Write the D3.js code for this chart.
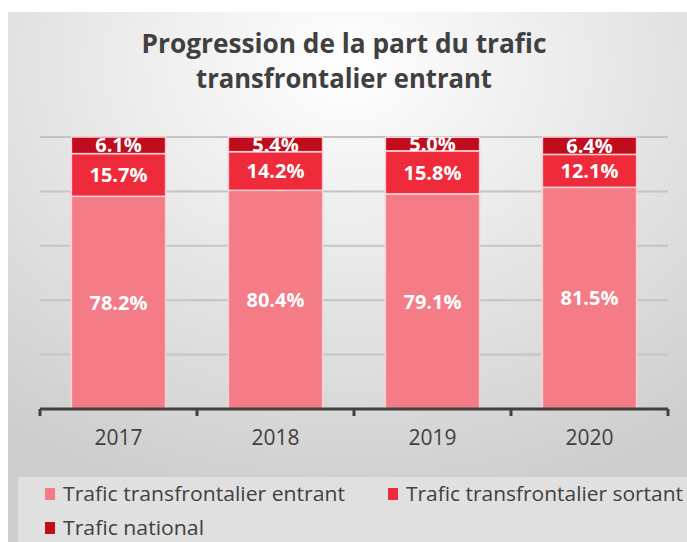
<!DOCTYPE html>
<html>
<head>
<meta charset="utf-8">
<script src="https://cdn.jsdelivr.net/npm/d3@7"></script>
<style>
  body { margin: 0; background: #fff; }
  text { font-family: "Open Sans", "Noto Sans", sans-serif; }
</style>
</head>
<body>
<div id="app"></div>
<script>
const years = ['2017', '2018', '2019', '2020'];
const seriesNames = ['Trafic transfrontalier entrant', 'Trafic transfrontalier sortant', 'Trafic national'];
const entrant = [78.2, 80.4, 79.1, 81.5];
const sortant = [15.7, 14.2, 15.8, 12.1];
const national = [6.1, 5.4, 5.0, 6.4];
const colors = ['#f47c87', '#ee2a3b', '#c00d1e'];
const yTicks = [0, 20, 40, 60, 80, 100];

const width = 687;
const height = 542;

const svg = d3.select('#app').append('svg')
  .attr('width', width)
  .attr('height', height);

// background gradient like the spreadsheet chart
const defs = svg.append('defs');
const grad = defs.append('radialGradient')
  .attr('id', 'bg')
  .attr('cx', '50%').attr('cy', '10%')
  .attr('r', '85%');
grad.append('stop').attr('offset', '0%').attr('stop-color', '#ffffff');
grad.append('stop').attr('offset', '100%').attr('stop-color', '#cdcdcd');

svg.append('rect')
  .attr('x', 8).attr('y', 12)
  .attr('width', width - 8).attr('height', height - 12)
  .attr('fill', 'url(#bg)');

// title
const titleLines = ['Progression de la part du trafic', 'transfrontalier entrant'];
svg.append('g')
  .selectAll('text')
  .data(titleLines)
  .enter()
  .append('text')
  .attr('x', 344).attr('y', (d, i) => 53 + i * 35)
  .attr('text-anchor', 'middle')
  .attr('font-size', 26).attr('font-weight', 'bold')
  .attr('fill', '#404040')
  .attr('textLength', (d, i) => i === 0 ? 405 : 296)
  .attr('lengthAdjust', 'spacingAndGlyphs')
  .text(d => d);

const plot = { left: 40, right: 668, top: 137, bottom: 409 };

const x = d3.scaleBand()
  .domain(years)
  .range([plot.left, plot.right])
  .paddingInner(0.4)
  .paddingOuter(0.2);

const y = d3.scaleLinear()
  .domain([0, 100])
  .range([plot.bottom, plot.top]);

// gridlines
svg.append('g')
  .selectAll('line')
  .data(yTicks.slice(1))
  .enter()
  .append('line')
  .attr('x1', plot.left).attr('x2', plot.right)
  .attr('y1', d => y(d)).attr('y2', d => y(d))
  .attr('stroke', '#c4c4c4')
  .attr('stroke-width', 2);

const rows = years.map((yr, i) => ({ year: yr, entrant: entrant[i], sortant: sortant[i], national: national[i] }));
const stack = d3.stack().keys(['entrant', 'sortant', 'national']);
const layers = stack(rows);

const layerG = svg.append('g')
  .selectAll('g')
  .data(layers)
  .enter()
  .append('g')
  .attr('fill', (d, i) => colors[i]);

layerG.selectAll('rect')
  .data(d => d)
  .enter()
  .append('rect')
  .attr('x', d => x(d.data.year))
  .attr('width', x.bandwidth())
  .attr('y', d => y(d[1]))
  .attr('height', d => y(d[0]) - y(d[1]))
  .attr('stroke', '#fbd0d4')
  .attr('stroke-width', 1.5);

// value labels
layerG.selectAll('text')
  .data((d, li) => d.map(p => ({ p, li, key: d.key })))
  .enter()
  .append('text')
  .attr('x', d => x(d.p.data.year) + x.bandwidth() / 2)
  .attr('y', d => (y(d.p[0]) + y(d.p[1])) / 2)
  .attr('dy', '0.36em')
  .attr('text-anchor', 'middle')
  .attr('font-size', 20)
  .attr('font-weight', 'bold')
  .attr('fill', '#fff')
  .text(d => d.p.data[d.key].toFixed(1) + '%');

// x axis
const xAxis = d3.axisBottom(x).tickSize(0).tickPadding(21);
const axisG = svg.append('g')
  .attr('transform', `translate(0, ${plot.bottom})`)
  .call(xAxis);
axisG.select('.domain').remove();
axisG.selectAll('text')
  .attr('font-size', 21)
  .attr('fill', '#404040')
  .attr('font-family', '"Open Sans", "Noto Sans", sans-serif');

const edges = years.map(yr => x(yr) - x.step() * x.paddingInner() / 2).concat([plot.right]);
edges[0] = plot.left;
axisG.append('line')
  .attr('x1', plot.left).attr('x2', plot.right)
  .attr('y1', 0).attr('y2', 0)
  .attr('stroke', '#404040').attr('stroke-width', 3);
axisG.selectAll('.tk')
  .data(edges)
  .enter()
  .append('line')
  .attr('x1', d => d).attr('x2', d => d)
  .attr('y1', 0).attr('y2', 7)
  .attr('stroke', '#404040').attr('stroke-width', 3);

// legend
svg.append('rect')
  .attr('x', 18).attr('y', 477)
  .attr('width', width - 18).attr('height', height - 477)
  .attr('fill', '#e0e0e0');

const legendPos = [[45, 494], [388, 494], [45, 528]];
const legendLen = [282, 277, 141];
const legend = svg.append('g')
  .selectAll('g')
  .data(seriesNames)
  .enter()
  .append('g')
  .attr('transform', (d, i) => `translate(${legendPos[i][0]}, ${legendPos[i][1]})`);
legend.append('rect')
  .attr('x', 0).attr('y', -6)
  .attr('width', 10).attr('height', 12)
  .attr('fill', (d, i) => colors[i]);
legend.append('text')
  .attr('x', 18)
  .attr('dy', '0.36em')
  .attr('font-size', 20)
  .attr('fill', '#404040')
  .attr('textLength', (d, i) => legendLen[i])
  .attr('lengthAdjust', 'spacingAndGlyphs')
  .text(d => d);
</script>
</body>
</html>
